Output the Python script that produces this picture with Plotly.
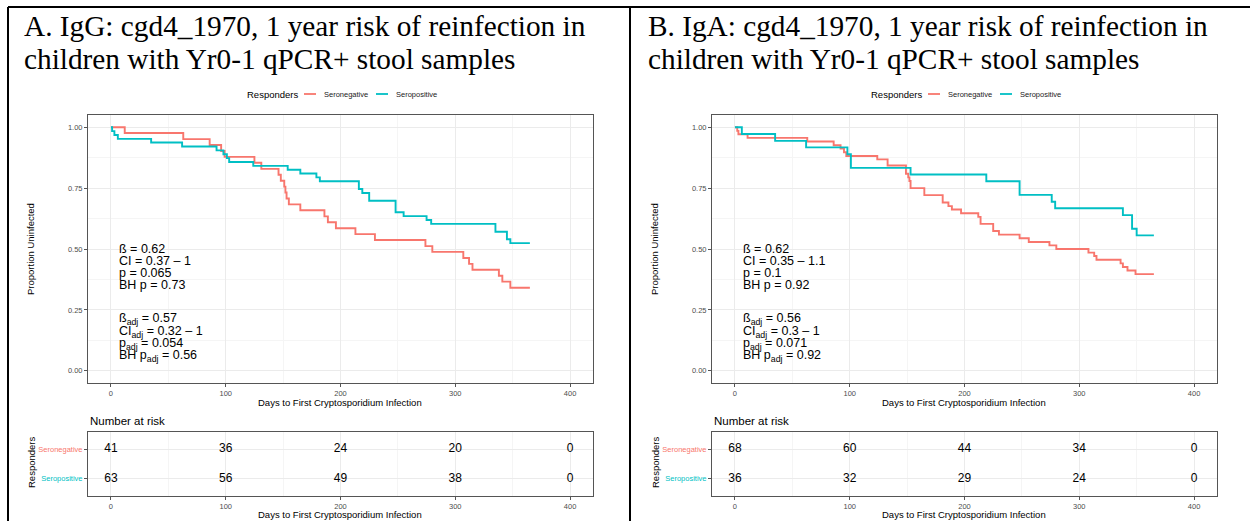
import plotly.graph_objects as go

W, H = 1250, 521
SANS = "Liberation Sans, Arial, sans-serif"
SERIF = "Liberation Serif, Times New Roman, serif"
RED = "#F8766D"
CYAN = "#00BFC4"

# ---------------- data ----------------
groups = ["Seronegative", "Seropositive"]
risk_times = [0, 100, 200, 300, 400]

# Panel A (IgG)
A_neg_t = [0, 12, 63, 86, 96, 99, 125, 131, 146, 148, 151, 152, 153, 155, 165, 186, 189, 196, 213, 230,
           274, 280, 307, 312, 315, 338, 341, 348, 365]
A_neg_s = [1.0, .976, .951, .927, .902, .878, .854, .829, .805, .780, .756, .732, .707, .683, .659, .634,
           .610, .585, .561, .537, .512, .488, .463, .439, .415, .390, .366, .341, .341]
A_pos_t = [0, 1, 3, 6, 35, 62, 92, 98, 101, 103, 124, 154, 165, 179, 182, 216, 219, 225, 248, 255,
           275, 279, 335, 345, 348, 365]
A_pos_s = [1.0, .984, .968, .952, .937, .921, .905, .889, .873, .857, .841, .825, .810, .794, .778, .746,
           .730, .698, .651, .635, .619, .603, .571, .540, .524, .524]
A_risk_neg = [41, 36, 24, 20, 0]
A_risk_pos = [63, 56, 49, 38, 0]

# Panel B (IgA)
B_neg_t = [0, 2, 3, 11, 63, 86, 92, 95, 97, 124, 133, 149, 151, 152, 153, 165, 181, 186, 189, 197,
           212, 214, 225, 230, 248, 256, 274, 280, 308, 313, 315, 336, 338, 342, 349, 365]
B_neg_s = [1.0, .985, .971, .956, .941, .926, .912, .897, .882, .868, .843, .809, .794, .779, .750, .721,
           .691, .676, .662, .647, .632, .603, .574, .559, .544, .529, .515, .500, .485, .471, .456, .441,
           .426, .412, .397, .397]
B_pos_t = [0, 6, 35, 62, 98, 101, 153, 219, 248, 276, 279, 338, 346, 350, 365]
B_pos_s = [1.0, .972, .944, .917, .889, .833, .806, .778, .722, .694, .667, .639, .583, .556, .556]
B_risk_neg = [68, 60, 44, 34, 0]
B_risk_pos = [36, 32, 29, 24, 0]

A_title = ["A. IgG: cgd4_1970, 1 year risk of reinfection in", "children with Yr0-1 qPCR+ stool samples"]
B_title = ["B. IgA: cgd4_1970, 1 year risk of reinfection in", "children with Yr0-1 qPCR+ stool samples"]

A_stats = ["ß = 0.62", "CI = 0.37 – 1", "p = 0.065", "BH p = 0.73"]
A_stats_adj = ["ß<sub>adj</sub> = 0.57", "CI<sub>adj</sub> = 0.32 – 1", "p<sub>adj</sub> = 0.054",
               "BH p<sub>adj</sub> = 0.56"]
B_stats = ["ß = 0.62", "CI = 0.35 – 1.1", "p = 0.1", "BH p = 0.92"]
B_stats_adj = ["ß<sub>adj</sub> = 0.56", "CI<sub>adj</sub> = 0.3 – 1", "p<sub>adj</sub> = 0.071",
               "BH p<sub>adj</sub> = 0.92"]
stat_y = [0.498, 0.449, 0.402, 0.354]
stat_adj_y = [0.212, 0.160, 0.112, 0.061]

x_major = [0, 100, 200, 300, 400]
y_major = [0.0, 0.25, 0.5, 0.75, 1.0]
y_labels = ["0.00", "0.25", "0.50", "0.75", "1.00"]

# ---------------- helpers ----------------
def px(x):
    return x / W

def py(y):
    return 1 - y / H

fig = go.Figure()
annotations = []
shapes = []

panels = [
    dict(off=0, t=(A_neg_t, A_neg_s, A_pos_t, A_pos_s), risk=(A_risk_neg, A_risk_pos),
         title=A_title, stats=A_stats, stats_adj=A_stats_adj, ax=("", "2")),
    dict(off=624, t=(B_neg_t, B_neg_s, B_pos_t, B_pos_s), risk=(B_risk_neg, B_risk_pos),
         title=B_title, stats=B_stats, stats_adj=B_stats_adj, ax=("3", "4")),
]

grid_major = "#EBEBEB"
grid_minor = "#F5F5F5"
tickfont = dict(family=SANS, size=7.5, color="#4D4D4D")

for p in panels:
    off = p["off"]
    m, r = p["ax"]
    nt, ns, pt, ps = p["t"]
    fig.add_trace(go.Scatter(x=nt, y=ns, mode="lines", line=dict(color=RED, width=1.9, shape="hv"),
                             xaxis="x" + m, yaxis="y" + m, showlegend=False, name=groups[0]))
    fig.add_trace(go.Scatter(x=pt, y=ps, mode="lines", line=dict(color=CYAN, width=1.9, shape="hv"),
                             xaxis="x" + m, yaxis="y" + m, showlegend=False, name=groups[1]))
    rn, rp = p["risk"]
    fig.add_trace(go.Scatter(x=risk_times, y=[groups[0]] * len(rn), mode="text",
                             text=[str(v) for v in rn], textfont=dict(family=SANS, size=12, color="black"),
                             xaxis="x" + r, yaxis="y" + r, showlegend=False))
    fig.add_trace(go.Scatter(x=risk_times, y=[groups[1]] * len(rp), mode="text",
                             text=[str(v) for v in rp], textfont=dict(family=SANS, size=12, color="black"),
                             xaxis="x" + r, yaxis="y" + r, showlegend=False))

    xdom = [px(88 + off), px(593 + off)]
    common_x = dict(domain=xdom, range=[-20, 420], tickvals=x_major, showgrid=True, gridcolor=grid_major,
                    gridwidth=1, zeroline=False, showline=True, linecolor="#555555", linewidth=1, mirror=True,
                    ticks="outside", ticklen=3, tickcolor="#555555", tickfont=tickfont,
                    minor=dict(tickvals=[50, 150, 250, 350], showgrid=True, gridcolor=grid_minor, ticks=""))
    fig.update_layout(**{
        "xaxis" + m: dict(common_x, anchor="y" + m),
        "yaxis" + m: dict(domain=[py(383), py(115)], range=[-0.05, 1.05], tickvals=y_major, ticktext=y_labels,
                          showgrid=True, gridcolor=grid_major, zeroline=False, showline=True,
                          linecolor="#555555", linewidth=1, mirror=True, ticks="outside", ticklen=3,
                          tickcolor="#555555", tickfont=tickfont, anchor="x" + m,
                          minor=dict(tickvals=[0.125, 0.375, 0.625, 0.875], showgrid=True,
                                     gridcolor=grid_minor, ticks="")),
        "xaxis" + r: dict(common_x, anchor="y" + r),
        "yaxis" + r: dict(domain=[py(496), py(432)], type="category", categoryarray=[groups[1], groups[0]],
                          range=[-0.6, 1.6], tickvals=[groups[1], groups[0]],
                          ticktext=[f'<span style="color:{CYAN}">{groups[1]}</span>',
                                    f'<span style="color:{RED}">{groups[0]}</span>'],
                          showgrid=True, gridcolor=grid_major, zeroline=False, showline=True,
                          linecolor="#555555", linewidth=1, mirror=True, ticks="outside", ticklen=3,
                          tickcolor="#555555", tickfont=tickfont, anchor="x" + r),
    })

    # panel title (serif)
    annotations.append(dict(text=p["title"][0], x=px(22 + off), y=py(26), xref="paper", yref="paper",
                            xanchor="left", yanchor="middle", showarrow=False,
                            font=dict(family=SERIF, size=29.3, color="black")))
    annotations.append(dict(text=p["title"][1], x=px(22 + off), y=py(59), xref="paper", yref="paper",
                            xanchor="left", yanchor="middle", showarrow=False,
                            font=dict(family=SERIF, size=29.3, color="black")))

    # legend
    annotations.append(dict(text="Responders", x=px(245 + off), y=py(94), xref="paper", yref="paper",
                            xanchor="left", yanchor="middle", showarrow=False,
                            font=dict(family=SANS, size=9.5, color="black")))
    shapes.append(dict(type="line", xref="paper", yref="paper", x0=px(304 + off), x1=px(316 + off),
                       y0=py(94), y1=py(94), line=dict(color=RED, width=1.8)))
    annotations.append(dict(text=groups[0], x=px(322 + off), y=py(94), xref="paper", yref="paper",
                            xanchor="left", yanchor="middle", showarrow=False,
                            font=dict(family=SANS, size=7.5, color="#1a1a1a")))
    shapes.append(dict(type="line", xref="paper", yref="paper", x0=px(376 + off), x1=px(388 + off),
                       y0=py(94), y1=py(94), line=dict(color=CYAN, width=1.8)))
    annotations.append(dict(text=groups[1], x=px(394 + off), y=py(94), xref="paper", yref="paper",
                            xanchor="left", yanchor="middle", showarrow=False,
                            font=dict(family=SANS, size=7.5, color="#1a1a1a")))

    # stats text
    for txt, yy in zip(p["stats"], stat_y):
        annotations.append(dict(text=txt, x=5, y=yy, xref="x" + m, yref="y" + m, xanchor="left",
                                yanchor="middle", showarrow=False,
                                font=dict(family=SANS, size=12.5, color="black")))
    for txt, yy in zip(p["stats_adj"], stat_adj_y):
        annotations.append(dict(text=txt, x=5, y=yy, xref="x" + m, yref="y" + m, xanchor="left",
                                yanchor="middle", showarrow=False,
                                font=dict(family=SANS, size=12.5, color="black")))

    # axis titles
    xc = px((88 + 593) / 2 + off)
    annotations.append(dict(text="Days to First Cryptosporidium Infection", x=xc, y=py(402), xref="paper",
                            yref="paper", xanchor="center", yanchor="middle", showarrow=False,
                            font=dict(family=SANS, size=9.5, color="black")))
    annotations.append(dict(text="Days to First Cryptosporidium Infection", x=xc, y=py(514), xref="paper",
                            yref="paper", xanchor="center", yanchor="middle", showarrow=False,
                            font=dict(family=SANS, size=9.5, color="black")))
    annotations.append(dict(text="Proportion Uninfected", x=px(31 + off), y=py(249), xref="paper",
                            yref="paper", xanchor="center", yanchor="middle", textangle=-90, showarrow=False,
                            font=dict(family=SANS, size=9.5, color="black")))
    annotations.append(dict(text="Responders", x=px(31 + off), y=py(463), xref="paper",
                            yref="paper", xanchor="center", yanchor="middle", textangle=-90, showarrow=False,
                            font=dict(family=SANS, size=9.5, color="black")))
    annotations.append(dict(text="Number at risk", x=px(88 + off), y=py(421), xref="paper", yref="paper",
                            xanchor="left", yanchor="middle", showarrow=False,
                            font=dict(family=SANS, size=11.5, color="black")))

# outer frame lines
for x0, y0, x1, y1 in [(8, 7, 8, 521), (8, 7, 1250, 7), (630, 7, 630, 521)]:
    shapes.append(dict(type="line", xref="paper", yref="paper", x0=px(x0), y0=py(y0), x1=px(x1), y1=py(y1),
                       line=dict(color="black", width=2)))

fig.update_layout(width=W, height=H, margin=dict(l=0, r=0, t=0, b=0), paper_bgcolor="white",
                  plot_bgcolor="white", annotations=annotations, shapes=shapes, showlegend=False,
                  font=dict(family=SANS))

fig.write_html("out.html")
